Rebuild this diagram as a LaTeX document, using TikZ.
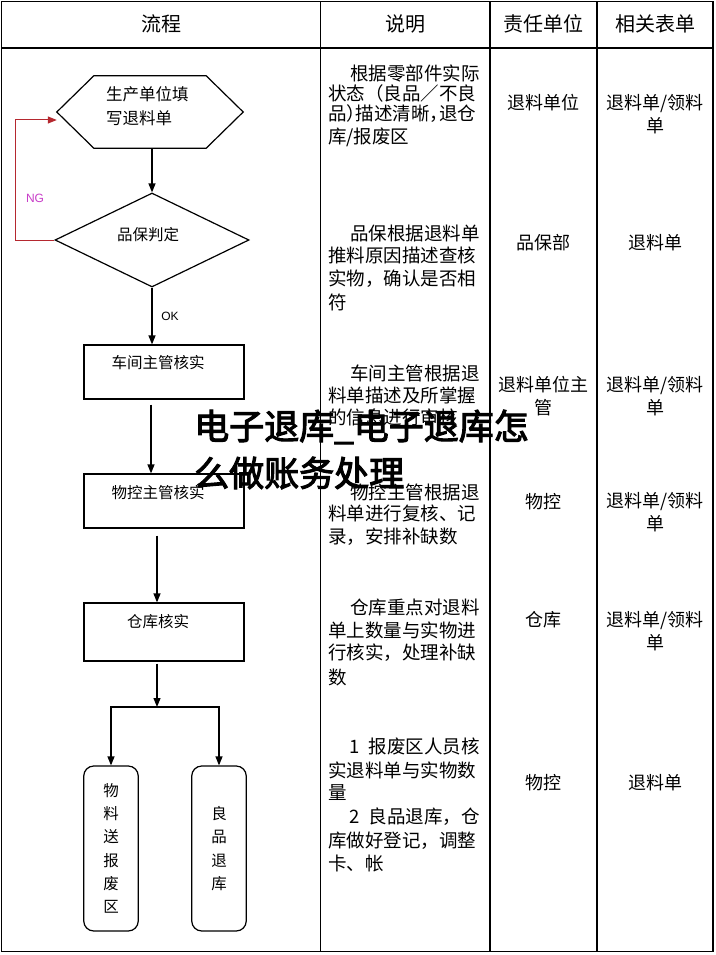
\documentclass[tikz,border=0pt]{standalone}
\usepackage{fontspec}
\setmainfont{Noto Sans CJK SC}
\newfontfamily\haltf[RawFeature=+halt]{Noto Sans CJK SC}
\newfontfamily\wmfont[FakeBold=3]{Noto Sans CJK SC}
\newfontfamily\lblfont{Liberation Sans}
\usetikzlibrary{shapes.geometric,arrows.meta}
\definecolor{ngred}{HTML}{B5282F}
\definecolor{ngtxt}{HTML}{C83CC8}
\begin{document}
\begin{tikzpicture}[x=1pt,y=-1pt,
  grid/.style={line width=1.4pt,black},
  flowline/.style={line width=1.2pt,black},
  arr/.style={flowline,-{Triangle[length=9pt,width=7pt]}},
  ngl/.style={line width=1pt,ngred,-{Triangle[length=9pt,width=7pt]}},
  fbox/.style={draw,line width=1.2pt,minimum width=160pt,inner sep=0pt},
  rbox/.style={draw,line width=1.2pt,rounded corners=10pt,minimum width=54.5pt,minimum height=165pt,inner sep=0pt,align=center,font=\fontsize{15.5}{23.3}\selectfont},
  ftxt/.style={inner sep=0pt,font=\fontsize{15.5}{18}\selectfont},
  hdr/.style={inner sep=0pt,font=\fontsize{20}{24}\selectfont},
  desc/.style={inner sep=0pt,font=\fontsize{18.5}{23}\selectfont},
  cell/.style={inner sep=0pt,align=center,font=\fontsize{18}{23}\selectfont},
  lbl/.style={inner sep=0pt,font=\lblfont\fontsize{12}{14}\selectfont},
  wm/.style={inner sep=0pt,anchor=west,font=\wmfont\fontsize{35}{40}\selectfont}]
\useasboundingbox (0,0) rectangle (715,955);
\fill[white] (0,0) rectangle (715,955);

% table
\draw[grid] (1.5,1.5) rectangle (713,951.5);
\draw[grid] (1.5,48) -- (713,48);
\draw[grid] (320.7,1.5) -- (320.7,951.5);
\draw[grid] (490,1.5) -- (490,951.5);
\draw[grid] (597,1.5) -- (597,951.5);

% header
\node[hdr] (h1) at (161,24) {流程};
\node[hdr] (h2) at (405,24) {说明};
\node[hdr] (h3) at (543,24) {责任单位};
\node[hdr] (h4) at (655,24) {相关表单};

% flow chart
\node[minimum width=186pt,minimum height=72pt,inner sep=0pt] (hex) at (150,112) {};
\draw[flowline] (hex.west) -- ([xshift=37pt]hex.north west) -- ([xshift=-37pt]hex.north east)
  -- (hex.east) -- ([xshift=-37pt]hex.south east) -- ([xshift=37pt]hex.south west) -- cycle;
\node[ftxt,anchor=west,align=left,font=\fontsize{16.5}{24}\selectfont] (hext) at (106,106) {生产单位填\\写退料单};

\node[draw,diamond,aspect=2.06,minimum width=194pt,minimum height=94pt,inner sep=0pt,line width=1.2pt] (dia) at (152,240) {};
\node[ftxt] (diat) at (148,235) {品保判定};

\node[fbox,minimum height=54pt] (b1) at (164,372) {};
\node[ftxt] (t1) at (158,363) {车间主管核实};
\node[fbox,minimum height=54pt] (b2) at (164,501) {};
\node[ftxt] (t2) at (158,493) {物控主管核实};
\node[fbox,minimum height=58pt] (b3) at (164,632) {};
\node[ftxt] (t3) at (158,622) {仓库核实};

\node[rbox] (r1) at (111,848.5) {物\\料\\送\\报\\废\\区};
\node[rbox] (r2) at (219,848.5) {良\\品\\退\\库};

\coordinate (bj) at (157,707);

\draw[arr] (hex.south -| dia.north) -- (dia.north);
\draw[arr] (dia.south) -- (dia.south |- b1.north);
\draw[arr,shorten <=5pt] ([xshift=-13pt]b1.south) -- ([xshift=-13pt]b2.north);
\draw[arr,shorten <=7pt] ([xshift=-7pt]b2.south) -- ([xshift=-7pt]b3.north);
\draw[arr,shorten <=2pt] (b3.south -| bj) -- (bj);
\draw[arr] (bj) -| (r1.north);
\draw[arr] (bj) -| (r2.north);

\draw[ngl] (dia.west) -- ++(-39,0) |- ([yshift=-8pt]hex.west);
\node[lbl,text=ngtxt] (ng) at (35,198) {NG};
\node[lbl] (ok) at (170,316) {OK};

% description column
\node[desc,anchor=east] (d11) at (480,73) {根据零部件实际};
\node[desc,anchor=west] (d12) at (328,93) {状态（良品／不良};
\node[desc,anchor=west] (d13) at (328,114) {品{\haltf ）}描述清晰{\haltf ，}退仓};
\node[desc,anchor=west] (d14) at (328,137) {库/报废区};

\node[desc,anchor=east] (d21) at (480,233) {品保根据退料单};
\node[desc,anchor=west] (d22) at (328,255) {推料原因描述查核};
\node[desc,anchor=west] (d23) at (328,279) {实物，确认是否相};
\node[desc,anchor=west] (d24) at (328,302) {符};

\node[desc,anchor=east] (d31) at (480,373) {车间主管根据退};
\node[desc,anchor=west] (d32) at (328,395) {料单描述及所掌握};
\node[desc,anchor=west] (d33) at (328,417) {的信息进行审核};

\node[desc,anchor=east] (d41) at (480,492) {物控主管根据退};
\node[desc,anchor=west] (d42) at (328,513) {料单进行复核、记};
\node[desc,anchor=west] (d43) at (328,537) {录，安排补缺数};

\node[desc,anchor=east] (d51) at (480,607) {仓库重点对退料};
\node[desc,anchor=west] (d52) at (328,630) {单上数量与实物进};
\node[desc,anchor=west] (d53) at (328,653) {行核实，处理补缺};
\node[desc,anchor=west] (d54) at (328,677) {数};

\node[desc,anchor=east] (d61) at (480,746) {1\hspace{9pt}报废区人员核};
\node[desc,anchor=west] (d62) at (328,770) {实退料单与实物数};
\node[desc,anchor=west] (d63) at (328,793) {量};
\node[desc,anchor=east] (d64) at (480,817) {2\hspace{9pt}良品退库，仓};
\node[desc,anchor=west] (d65) at (328,841) {库做好登记，调整};
\node[desc,anchor=west] (d66) at (328,864) {卡、帐};

% responsible unit column
\node[cell] (c31) at (543,103) {退料单位};
\node[cell] (c32) at (543,243) {品保部};
\node[cell] (c33) at (543,396) {退料单位主\\管};
\node[cell] (c34) at (543,502) {物控};
\node[cell] (c35) at (543,620) {仓库};
\node[cell] (c36) at (543,783) {物控};

% related forms column
\node[cell] (c41) at (655,114.5) {退料单/领料\\单};
\node[cell] (c42) at (655,243) {退料单};
\node[cell] (c43) at (655,396) {退料单/领料\\单};
\node[cell] (c44) at (655,512.5) {退料单/领料\\单};
\node[cell] (c45) at (655,631) {退料单/领料\\单};
\node[cell] (c46) at (655,783) {退料单};

% overlay title
\node[wm] (wm1) at (194,427) {电子退库\_电子退库怎};
\node[wm] (wm2) at (194,473) {么做账务处理};
\end{tikzpicture}
\end{document}
